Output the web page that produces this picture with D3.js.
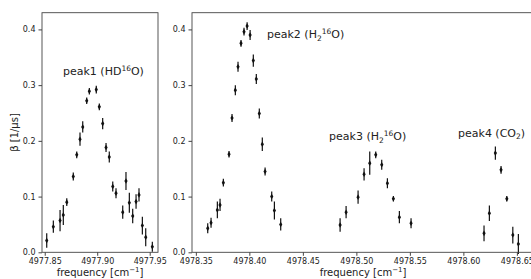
<!DOCTYPE html>
<html>
<head>
<meta charset="utf-8">
<script src="https://cdn.jsdelivr.net/npm/d3@7"></script>
<style>
  html, body { margin: 0; padding: 0; background: #fff; }
  svg { display: block; font-family: "DejaVu Sans", sans-serif; }
</style>
</head>
<body>
<svg id="chart" width="531" height="279"></svg>
<script>
// peak1 (left panel)
var freq1 = [4977.8519, 4977.8582, 4977.8646, 4977.8677, 4977.8710, 4977.8772, 4977.8805, 4977.8836, 4977.8862,
             4977.8900, 4977.8925, 4977.8991, 4977.9020, 4977.9052, 4977.9084, 4977.9115, 4977.9148, 4977.9179,
             4977.9243, 4977.9274, 4977.9306, 4977.9338, 4977.9370, 4977.9398, 4977.9430, 4977.9462, 4977.9525];
var beta1 = [0.021, 0.046, 0.057, 0.067, 0.090, 0.136, 0.175, 0.203, 0.225, 0.272, 0.289, 0.292, 0.261, 0.231,
             0.188, 0.171, 0.118, 0.106, 0.072, 0.128, 0.089, 0.065, 0.091, 0.103, 0.048, 0.027, 0.010];
var err1 = [0.013, 0.011, 0.019, 0.018, 0.007, 0.007, 0.006, 0.012, 0.010, 0.006, 0.006, 0.007, 0.006, 0.010,
            0.008, 0.010, 0.009, 0.009, 0.012, 0.016, 0.018, 0.013, 0.013, 0.012, 0.016, 0.016, 0.009];

// peak2, peak3, peak4 (right panel)
var freq2 = [4978.3611, 4978.3642, 4978.3701, 4978.3726, 4978.3757, 4978.3810, 4978.3838, 4978.3869, 4978.3894,
             4978.3922, 4978.3950, 4978.3979, 4978.4007, 4978.4037, 4978.4065, 4978.4093, 4978.4121, 4978.4147,
             4978.4209, 4978.4234, 4978.4293];
var beta2 = [0.043, 0.053, 0.076, 0.085, 0.125, 0.176, 0.241, 0.291, 0.333, 0.375, 0.396, 0.406, 0.390, 0.344,
             0.311, 0.249, 0.194, 0.145, 0.100, 0.075, 0.050];
var err2 = [0.009, 0.009, 0.015, 0.011, 0.007, 0.006, 0.007, 0.009, 0.009, 0.006, 0.007, 0.007, 0.009, 0.011,
            0.009, 0.009, 0.012, 0.007, 0.009, 0.016, 0.011];

var freq3 = [4978.4848, 4978.4904, 4978.5016, 4978.5072, 4978.5125, 4978.5181, 4978.5237, 4978.5290, 4978.5346,
             4978.5402, 4978.5511];
var beta3 = [0.049, 0.072, 0.099, 0.140, 0.160, 0.175, 0.157, 0.124, 0.096, 0.063, 0.052];
var err3 = [0.012, 0.011, 0.012, 0.011, 0.021, 0.006, 0.009, 0.009, 0.005, 0.011, 0.009];

var freq4 = [4978.6193, 4978.6243, 4978.6299, 4978.6352, 4978.6406, 4978.6462, 4978.6514];
var beta4 = [0.034, 0.070, 0.178, 0.148, 0.096, 0.031, 0.015];
var err4 = [0.014, 0.014, 0.012, 0.007, 0.005, 0.015, 0.018];

// ticks
var xticks1 = [4977.85, 4977.90, 4977.95];
var xticks2 = [4978.35, 4978.40, 4978.45, 4978.50, 4978.55, 4978.60, 4978.65];
var yticks = [0.0, 0.1, 0.2, 0.3, 0.4];

// peak labels: [main, script, script type, tail, x, y]
var labels1 = [["peak1 (HD", "16", "sup", "O)", 4977.8674, 0.318]];
var labels2 = [
    ["peak2 (H", "2", "sub", "16O)", 4978.4165, 0.384],
    ["peak3 (H", "2", "sub", "16O)", 4978.4745, 0.2015],
    ["peak4 (CO", "2", "sub", ")", 4978.5950, 0.207]
];

var svg = d3.select("#chart");
var top_y = 12.7, bot_y = 252.3;

var y = d3.scaleLinear().domain([0, 0.43]).range([bot_y, top_y]);

function makePanel(x0, x1, xdom, xticks, series, labels) {
    var x = d3.scaleLinear().domain(xdom).range([x0, x1]);
    var g = svg.append("g");

    // error bars + markers
    series.forEach(function(s) {
        var pts = s[0].map(function(f, i) { return {f: f, b: s[1][i], e: s[2][i]}; });
        g.selectAll(null).data(pts).enter().append("line")
          .attr("x1", function(d) { return x(d.f); })
          .attr("x2", function(d) { return x(d.f); })
          .attr("y1", function(d) { return y(d.b - d.e); })
          .attr("y2", function(d) { return y(d.b + d.e); })
          .style("stroke", "#111")
          .style("stroke-width", 1.2);
        g.selectAll(null).data(pts).enter().append("path")
          .attr("d", d3.symbol().type(d3.symbolDiamond).size(9))
          .attr("transform", function(d) { return "translate(" + x(d.f) + "," + y(d.b) + ")"; })
          .style("fill", "#111");
    });

    // frame
    g.append("rect")
      .attr("x", x0).attr("y", top_y)
      .attr("width", x1 - x0).attr("height", bot_y - top_y)
      .style("fill", "none")
      .style("stroke", "#444")
      .style("stroke-width", 0.9);

    var xa = g.append("g")
      .attr("transform", "translate(0," + bot_y + ")")
      .call(d3.axisBottom(x).tickValues(xticks).tickFormat(d3.format(".2f")).tickSize(3.5).tickPadding(2.5));
    var ya = g.append("g")
      .attr("transform", "translate(" + x0 + ",0)")
      .call(d3.axisLeft(y).tickValues(yticks).tickFormat(d3.format(".1f")).tickSize(3.5).tickPadding(3));
    [xa, ya].forEach(function(a) {
        a.select(".domain").remove();
        a.selectAll("line").style("stroke", "#444");
        a.selectAll("text").style("font-size", "8px").style("fill", "#222")
          .style("font-family", "DejaVu Sans, sans-serif");
    });

    var xl = g.append("text")
      .attr("x", (x0 + x1) / 2).attr("y", 276)
      .attr("text-anchor", "middle")
      .style("font-size", "10px").style("fill", "#222");
    xl.append("tspan").text("frequency [cm");
    xl.append("tspan").attr("dy", -4).style("font-size", "7px").text("\u22121");
    xl.append("tspan").attr("dy", 4).text("]");

    labels.forEach(function(l) {
        var t = g.append("text")
          .attr("x", x(l[4])).attr("y", y(l[5]))
          .style("font-size", "11px").style("fill", "#222");
        t.append("tspan").text(l[0]);
        if (l[2] == "sup") {
            t.append("tspan").attr("dy", -4.5).style("font-size", "7.5px").text(l[1]);
            t.append("tspan").attr("dy", 4.5).text(l[3]);
        } else {
            t.append("tspan").attr("dy", 2.5).style("font-size", "7.5px").text(l[1]);
            if (l[3] == ")") {
                t.append("tspan").attr("dy", -2.5).text(")");
            } else {
                t.append("tspan").attr("dy", -7).style("font-size", "7.5px").text("16");
                t.append("tspan").attr("dy", 4.5).text("O)");
            }
        }
    });
}

makePanel(42, 158, [4977.8474, 4977.9579], xticks1, [[freq1, beta1, err1]], labels1);
makePanel(192, 534, [4978.3464, 4978.6660], xticks2,
          [[freq2, beta2, err2], [freq3, beta3, err3], [freq4, beta4, err4]], labels2);

// y label
svg.append("text")
  .attr("transform", "translate(18," + ((top_y + bot_y) / 2) + ") rotate(-90)")
  .attr("text-anchor", "middle")
  .style("font-size", "10px").style("fill", "#222")
  .text("\u03b2 [1/\u03bcs]");
</script>
</body>
</html>
